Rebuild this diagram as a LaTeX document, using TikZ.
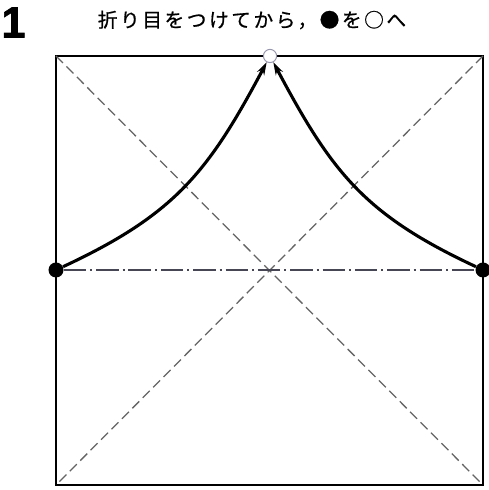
\documentclass[tikz,border=0pt]{standalone}
\usepackage{fontspec}
\usepackage{tikz}
\usetikzlibrary{arrows.meta}
\newfontfamily\jpfont[LetterSpace=13, FakeBold=0.7]{Noto Sans CJK JP}
\newfontfamily\stepfont[BoldFeatures={FakeBold=1.5}]{Liberation Sans}
\definecolor{creasegray}{RGB}{100,100,100}
\definecolor{foldgray}{RGB}{70,70,85}
\definecolor{ringgray}{RGB}{150,150,175}

\begin{document}
\begin{tikzpicture}[x=0.025cm, y=0.025cm,
    valley/.style={creasegray, line width=0.9pt, dash pattern=on 7pt off 3.5pt},
    mountain/.style={foldgray, line width=1pt, dash pattern=on 16pt off 2.8pt on 1.4pt off 2.8pt},
    dot/.style={circle, fill=black, minimum size=0.375cm, inner sep=0pt},
    target/.style={circle, draw=ringgray, fill=white, line width=0.7pt, minimum size=0.33cm, inner sep=0pt},
    move/.style={line width=2.2pt, -{Stealth[length=0.32cm, width=0.2cm]}, looseness=1.1}]
    \useasboundingbox (0,0) rectangle (488,490);

    % Paper
    \coordinate (tl) at (56,434);
    \coordinate (tr) at (483,434);
    \coordinate (br) at (483,5);
    \coordinate (bl) at (56,5);
    \draw[line width=1.4pt] (tl) rectangle (br);

    % Diagonal creases
    \draw[valley] (tl) -- (br);
    \draw[valley] (tr) -- (bl);

    % Points to bring together
    \node[dot] (left) at (56,220) {};
    \node[dot] (right) at (483,220) {};
    \node[target] (top) at (270,434) {};

    % Middle crease
    \draw[mountain] (left) -- (right);

    % Arrows
    \draw[move] (left) to[out=25, in=242] (top);
    \draw[move] (right) to[out=155, in=298] (top);

    % Step and instruction
    \node[font=\stepfont\bfseries\fontsize{31}{31}\selectfont] (num) at (13.5,467.5) {1};
    \node[font=\jpfont\fontsize{14}{16}\selectfont] (title) at (252,470) {折り目をつけてから，●を○へ};
\end{tikzpicture}
\end{document}
